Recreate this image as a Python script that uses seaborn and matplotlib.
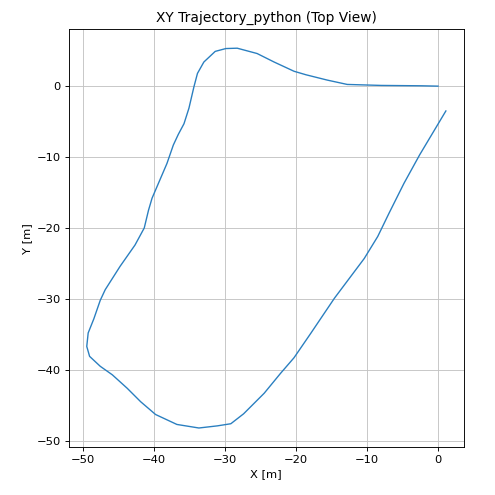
import matplotlib
matplotlib.use("Agg")
import matplotlib.pyplot as plt
import pandas as pd
import seaborn as sns

# ── Trajectory points ─────────────────────────────────────────────────────────
x_m = [0.0, -2.4, -8.0, -12.8, -15.6, -18.6, -20.3, -23.1, -25.5, -28.3, -29.9,
       -31.4, -33.0, -33.9, -34.4, -35.1, -35.8, -36.6, -37.3, -38.2, -39.4,
       -40.3, -40.8, -41.4, -42.7, -44.8, -46.9, -47.6, -48.5, -49.3, -49.5,
       -49.1, -47.6, -45.9, -43.8, -41.9, -39.8, -36.8, -33.7, -31.1, -29.2,
       -27.4, -24.5, -22.2, -20.3, -17.9, -14.6, -10.4, -8.5, -6.9, -4.8,
       -2.6, 1.1]
y_m = [0.0, 0.05, 0.1, 0.24, 0.85, 1.6, 2.1, 3.4, 4.6, 5.35, 5.3,
       4.9, 3.4, 1.8, -0.1, -3.1, -5.3, -6.8, -8.3, -10.9, -13.7,
       -15.8, -17.5, -20.0, -22.4, -25.4, -28.7, -30.2, -32.8, -34.8, -36.7,
       -38.1, -39.5, -40.7, -42.6, -44.5, -46.3, -47.7, -48.2, -47.9, -47.6,
       -46.2, -43.3, -40.5, -38.3, -34.8, -29.9, -24.3, -21.2, -17.9, -13.7,
       -9.7, -3.5]

TITLE = "XY Trajectory_python (Top View)"
DPI = 495 / 6.0


def main() -> None:
    df = pd.DataFrame({"x": x_m, "y": y_m})
    fig, ax = plt.subplots(figsize=(6, 6), dpi=DPI)
    sns.lineplot(data=df, x="x", y="y", sort=False, estimator=None,
                 color="#2a7fc0", linewidth=1.2, ax=ax)
    ax.set_title(TITLE)
    ax.set_xlabel("X [m]")
    ax.set_ylabel("Y [m]")
    ax.grid(True, color="#c4c4c4")
    ax.set_aspect("equal", adjustable="datalim")
    fig.subplots_adjust(left=0.139, right=0.937, top=0.941, bottom=0.097)
    plt.savefig("out.png", dpi=DPI)
    plt.close()


if __name__ == "__main__":
    main()
